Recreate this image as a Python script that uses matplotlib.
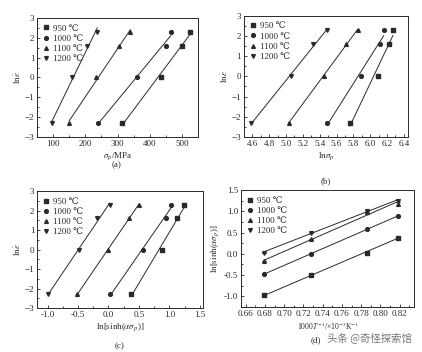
import numpy as np
import matplotlib
matplotlib.use("Agg")
import matplotlib.pyplot as plt
from matplotlib.ticker import MultipleLocator

plt.rcParams['font.family'] = ['Liberation Serif', 'DejaVu Serif']
plt.rcParams['mathtext.fontset'] = 'stix'

temps = ["950 ℃", "1000 ℃", "1100 ℃", "1200 ℃"]
markers = ["s", "o", "^", "v"]
ln_rate = [-2.3, 0.0, 1.6, 2.3]

# (a) peak stress, MPa
sig_950 = [315, 435, 500, 525]
sig_1000 = [240, 360, 450, 465]
sig_1100 = [150, 232, 305, 340]
sig_1200 = [97, 158, 205, 237]

# (b) ln(peak stress)
lnsig_950 = [5.76, 6.09, 6.22, 6.27]
lnsig_1000 = [5.49, 5.89, 6.12, 6.16]
lnsig_1100 = [5.03, 5.45, 5.71, 5.85]
lnsig_1200 = [4.59, 5.06, 5.32, 5.49]

# (c) ln[sinh(alpha*sigma)]
sinh_950 = [0.37, 0.88, 1.13, 1.24]
sinh_1000 = [0.03, 0.57, 0.94, 1.02]
sinh_1100 = [-0.51, -0.01, 0.33, 0.50]
sinh_1200 = [-0.99, -0.48, -0.18, 0.02]

# (d) 1000/T vs ln[sinh(alpha*sigma)]
invT = [0.679, 0.728, 0.786, 0.818]
d_s1 = [-0.98, -0.50, 0.03, 0.38]
d_s2 = [-0.47, -0.01, 0.58, 0.89]
d_s3 = [-0.17, 0.34, 0.98, 1.17]
d_s4 = [0.03, 0.50, 1.01, 1.25]
d_err3 = [0, 0, 0.03, 0.04]
d_err4 = [0, 0, 0.03, 0.04]

ink = "#2a2a2a"
fs = 6.5
ms = 2.7

fig = plt.figure(figsize=(4.22, 3.52), dpi=100)

def style(ax):
    for sp in ax.spines.values():
        sp.set_color(ink)
        sp.set_linewidth(0.7)
    ax.tick_params(direction='in', which='both', labelsize=fs, colors=ink,
                   top=False, right=False, width=0.6, pad=2)
    ax.tick_params(which='major', length=2.5)
    ax.tick_params(which='minor', length=1.5)

def fit_line(ax, x, y):
    x = np.asarray(x); y = np.asarray(y)
    k, b = np.polyfit(x, y, 1)
    xs = np.array([x.min(), x.max()])
    ax.plot(xs, k * xs + b, color=ink, lw=0.7, zorder=1)

def legend(ax):
    ax.legend(loc='upper left', fontsize=fs, frameon=False, handlelength=0.6,
              handletextpad=0.5, labelspacing=0.2, borderaxespad=0.3,
              labelcolor=ink)

def panel_rate(ax, xs_list, xlim, xmaj, xmin_):
    for xs, m, lab in zip(xs_list, markers, temps):
        fit_line(ax, xs, ln_rate)
        ax.plot(xs, ln_rate, m, ms=ms, color=ink, label=lab, zorder=2, ls='none')
    ax.set_xlim(*xlim)
    ax.set_ylim(-3, 3)
    ax.xaxis.set_major_locator(MultipleLocator(xmaj))
    ax.xaxis.set_minor_locator(MultipleLocator(xmin_))
    ax.yaxis.set_major_locator(MultipleLocator(1))
    ax.yaxis.set_minor_locator(MultipleLocator(0.5))
    ax.set_ylabel(r"ln$\dot{\varepsilon}$", fontsize=fs, color=ink, labelpad=2)
    style(ax)
    legend(ax)

# (a)
axa = fig.add_axes([0.088, 0.611, 0.381, 0.338])
panel_rate(axa, [sig_950, sig_1000, sig_1100, sig_1200], (50, 550), 100, 50)
axa.set_xlabel(r"$\sigma_p$/MPa", fontsize=fs, color=ink, labelpad=2)

# (b)
axb = fig.add_axes([0.578, 0.611, 0.389, 0.344])
panel_rate(axb, [lnsig_950, lnsig_1000, lnsig_1100, lnsig_1200], (4.5, 6.45), 0.2, 0.1)
axb.xaxis.set_major_formatter(matplotlib.ticker.FormatStrFormatter('%.1f'))
axb.set_xlabel(r"ln$\sigma_p$", fontsize=fs, color=ink, labelpad=2)

# (c)
axc = fig.add_axes([0.088, 0.125, 0.393, 0.332])
panel_rate(axc, [sinh_950, sinh_1000, sinh_1100, sinh_1200], (-1.17, 1.55), 0.5, 0.25)
axc.xaxis.set_major_formatter(matplotlib.ticker.FormatStrFormatter('%.1f'))
axc.set_xlabel(r"ln[sinh($\alpha\sigma_p$)]", fontsize=fs, color=ink, labelpad=2)

# (d)
axd = fig.add_axes([0.571, 0.128, 0.410, 0.332])
for ys, m, lab, err in zip([d_s1, d_s2, d_s3, d_s4], markers, temps,
                           [None, None, d_err3, d_err4]):
    fit_line(axd, invT, ys)
    if err is not None:
        axd.errorbar(invT, ys, yerr=err, fmt='none', ecolor=ink, elinewidth=0.6,
                     capsize=1.5, capthick=0.6, zorder=2)
    axd.plot(invT, ys, m, ms=ms, color=ink, label=lab, zorder=3, ls='none')
axd.set_xlim(0.655, 0.835)
axd.set_ylim(-1.25, 1.5)
axd.xaxis.set_major_locator(MultipleLocator(0.02))
axd.xaxis.set_minor_locator(MultipleLocator(0.01))
axd.yaxis.set_major_locator(MultipleLocator(0.5))
axd.yaxis.set_minor_locator(MultipleLocator(0.25))
axd.xaxis.set_major_formatter(matplotlib.ticker.FormatStrFormatter('%.2f'))
axd.yaxis.set_major_formatter(matplotlib.ticker.FormatStrFormatter('%.1f'))
axd.set_ylabel(r"ln[sinh($\alpha\sigma_p$)]", fontsize=fs, color=ink, labelpad=2)
axd.set_xlabel(r"1000$T^{-1}$/×10$^{-3}$K$^{-1}$", fontsize=5.5, color=ink, labelpad=2)
style(axd)
legend(axd)

# captions
fig.text(117 / 422, 1 - 165 / 352, "(a)", ha='center', va='center', fontsize=fs, color=ink)
fig.text(326 / 422, 1 - 181 / 352, "(b)", ha='center', va='center', fontsize=fs, color=ink)
fig.text(120 / 422, 1 - 346 / 352, "(c)", ha='center', va='center', fontsize=fs, color=ink)
fig.text(316 / 422, 1 - 340 / 352, "(d)", ha='center', va='center', fontsize=fs, color=ink)

# watermark
fig.text(412 / 422, 1 - 338 / 352, "头条 @奇怪探索馆", ha='right', va='center',
         fontsize=7.5, color="#777777",
         family=['Noto Sans CJK SC', 'DejaVu Sans'])

fig.savefig("out.png", dpi=100, facecolor='white')
